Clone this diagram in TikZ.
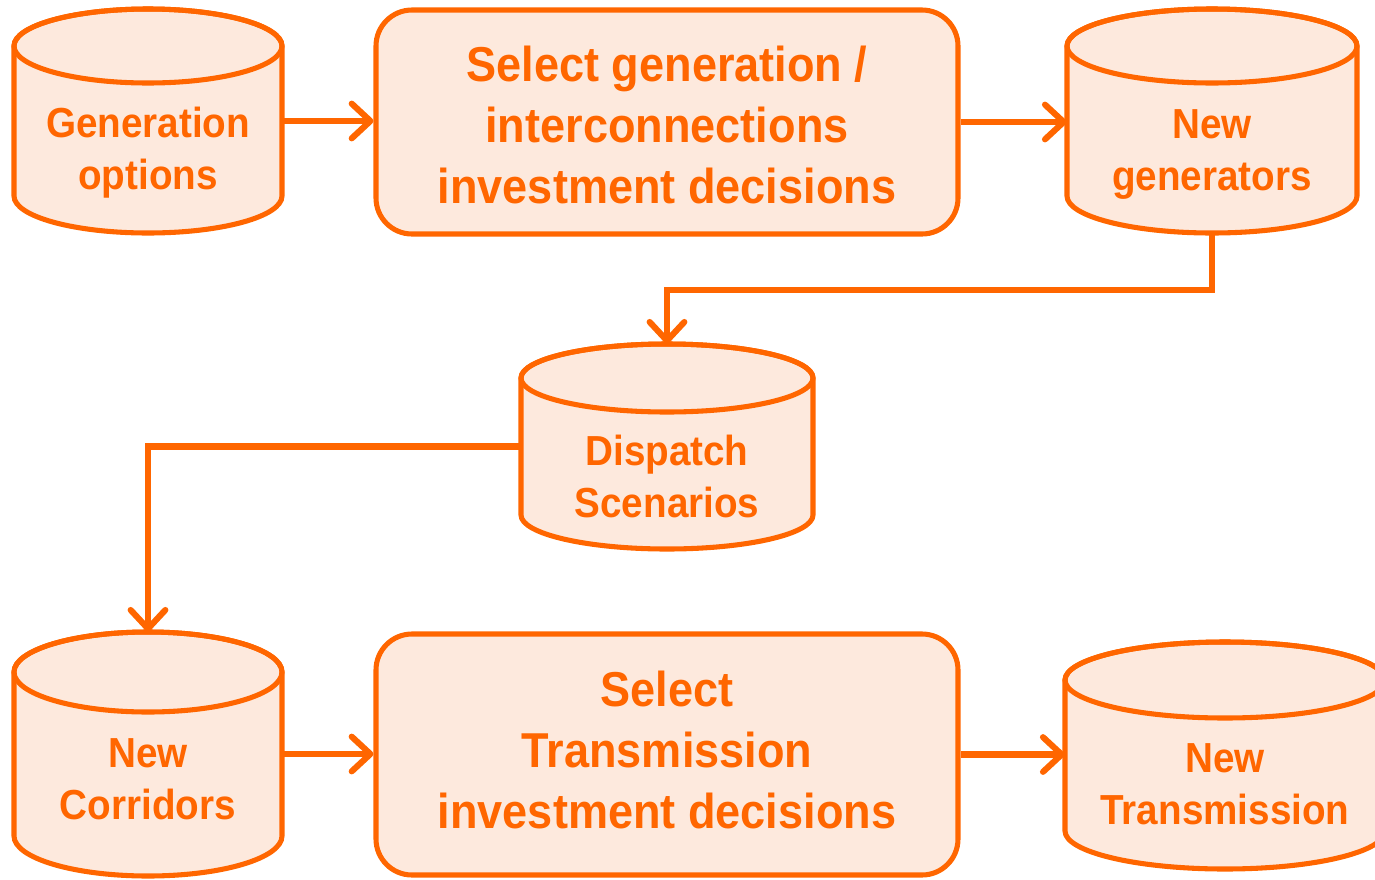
\documentclass[tikz,border=0pt]{standalone}
\usepackage{fontspec}
\setmainfont{Liberation Sans}[FakeStretch=0.92]
\usetikzlibrary{arrows.meta,fit,calc}
\definecolor{org}{RGB}{255,102,0}
\definecolor{peach}{RGB}{253,233,221}
\tikzset{
  outl/.style={draw=org, line width=3.8pt, fill=peach},
  edgeln/.style={draw=org, line width=3.8pt},
  boxnode/.style={outl, rounded corners=27pt, inner sep=0pt},
  arr/.style={draw=org, line width=4.6pt, -{Straight Barb[length=14pt,width=26pt,round]}},
  cyltext/.style={anchor=base, text=org, inner sep=0pt, font=\bfseries\fontsize{31.5}{39}\selectfont},
  boxtext/.style={anchor=base, text=org, inner sep=0pt, font=\bfseries\fontsize{36.75}{45.75}\selectfont},
}
\newcommand\drawcyl[6]{% cx, top, bottom, rx, ry, name
  \path[outl] (#1-#4,#2+#5) -- (#1-#4,#3-#5) arc (180:0:#4 and #5) -- (#1+#4,#2+#5) arc (0:-180:#4 and #5) -- cycle;
  \draw[edgeln] (#1,#2+#5) ellipse (#4 and #5);
  \node[fit={(#1-#4,#2) (#1+#4,#3)}, inner sep=0pt] (#6) {};
}
\begin{document}
\begin{tikzpicture}[x=0.75pt,y=-0.75pt]
\useasboundingbox (0,0) rectangle (1375,879);
% cylinders
\drawcyl{148}{9}{233}{134}{37}{gen}
\drawcyl{1212}{9}{233}{145}{37}{newgen}
\drawcyl{667}{344}{549}{146}{34}{disp}
\drawcyl{148}{632}{876}{134}{40}{corr}
\drawcyl{1225}{642}{869}{160}{38}{trans}
% boxes
\node[boxnode, minimum width=436.5pt, minimum height=168pt] (box1) at (667,122) {};
\node[boxnode, minimum width=436.5pt, minimum height=180.75pt] (box2) at (667,754.5) {};
% texts
\node[cyltext] (gen-t) at (148,137) {\begin{tabular}[t]{@{}c@{}}Generation\\options\end{tabular}};
\node[cyltext] (newgen-t) at (1212,138) {\begin{tabular}[t]{@{}c@{}}New\\generators\end{tabular}};
\node[cyltext] (disp-t) at (667,465) {\begin{tabular}[t]{@{}c@{}}Dispatch\\Scenarios\end{tabular}};
\node[cyltext] (corr-t) at (148,767) {\begin{tabular}[t]{@{}c@{}}New\\Corridors\end{tabular}};
\node[cyltext] (trans-t) at (1225,772) {\begin{tabular}[t]{@{}c@{}}New\\Transmission\end{tabular}};
\node[boxtext] (box1-t) at (667,81) {\begin{tabular}[t]{@{}c@{}}Select generation /\\interconnections\\investment decisions\end{tabular}};
\node[boxtext] (box2-t) at (667,706) {\begin{tabular}[t]{@{}c@{}}Select\\Transmission\\investment decisions\end{tabular}};
% connectors
\draw[arr] (gen.east) -- (gen.east -| box1.west);
\draw[arr] (box1.east) -- (box1.east -| newgen.west);
\draw[arr] (newgen.south) -- ++(0,57) -| (disp.north);
\draw[arr] (disp.west) -| (corr.north);
\draw[arr] (corr.east) -- (corr.east -| box2.west);
\draw[arr] (box2.east) -- (box2.east -| trans.west);
\end{tikzpicture}
\end{document}
